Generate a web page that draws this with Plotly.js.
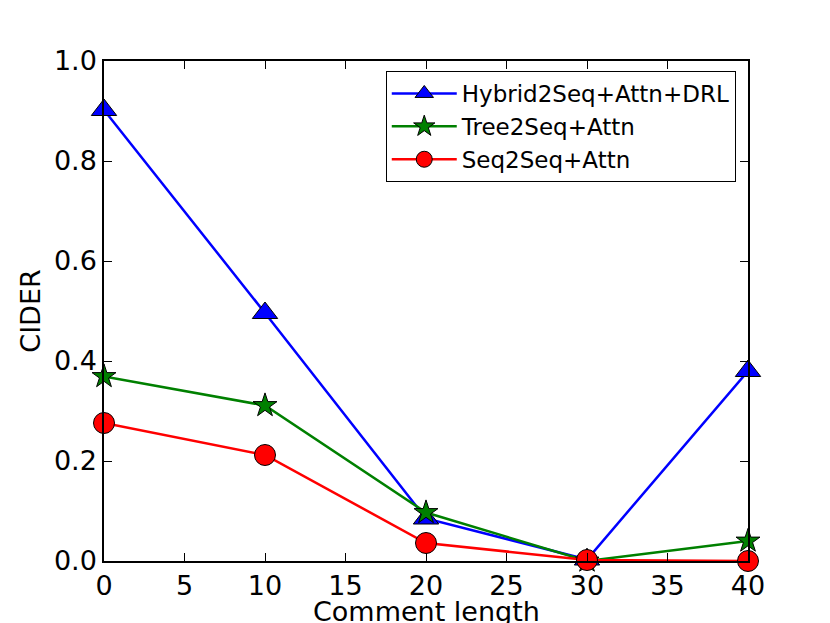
<!DOCTYPE html>
<html>
<head>
<meta charset="utf-8">
<script src="https://cdn.plot.ly/plotly-3.0.1.min.js"></script>
<style>
  body { margin: 0; background: #fff; }
  #chart { width: 830px; height: 623px; }
</style>
</head>
<body>
<div id="chart"></div>
<script>
var lengths = [0, 10, 20, 30, 40];
var hybridCider = [0.902, 0.496, 0.085, 0.003, 0.38];
var treeCider = [0.369, 0.311, 0.097, 0.0, 0.04];
var seqCider = [0.276, 0.212, 0.036, 0.002, 0.0];

var names = ["Hybrid2Seq+Attn+DRL", "Tree2Seq+Attn", "Seq2Seq+Attn"];
var xTitle = "Comment length";
var yTitle = "CIDER";

function series(y, name, color, symbol, size) {
  return {
    x: lengths,
    y: y,
    name: name,
    legendgroup: name,
    type: "scatter",
    mode: "lines+markers",
    cliponaxis: false,
    line: { color: color, width: 2.5 },
    marker: { symbol: symbol, size: size, color: color, line: { color: "black", width: 1 } }
  };
}

var data = [
  series(hybridCider, names[0], "blue", "triangle-up", 22),
  series(treeCider, names[1], "green", "star", 18),
  series(seqCider, names[2], "red", "circle", 21)
];

var axisFont = { family: "DejaVu Sans", size: 27, color: "black" };

var layout = {
  width: 830,
  height: 623,
  margin: { l: 104, r: 82, t: 61, b: 62 },
  paper_bgcolor: "white",
  plot_bgcolor: "white",
  font: { family: "DejaVu Sans", color: "black" },
  showlegend: true,
  legend: {
    x: 0.981, y: 0.98, xanchor: "right", yanchor: "top",
    bgcolor: "white", bordercolor: "black", borderwidth: 1,
    font: { family: "DejaVu Sans", size: 23, color: "black" },
    itemwidth: 65,
    traceorder: "grouped",
    tracegroupgap: 0
  },
  xaxis: {
    range: [0, 40],
    tickvals: [0, 5, 10, 15, 20, 25, 30, 35, 40],
    ticks: "inside", ticklen: 8, tickwidth: 1, tickcolor: "black",
    showline: true, linecolor: "black", linewidth: 1.5, mirror: "ticks",
    showgrid: false, zeroline: false,
    tickfont: axisFont
  },
  yaxis: {
    range: [0, 1.0],
    tickvals: [0, 0.2, 0.4, 0.6, 0.8, 1.0],
    tickformat: ".1f",
    ticks: "inside", ticklen: 8, tickwidth: 1, tickcolor: "black",
    showline: true, linecolor: "black", linewidth: 1.5, mirror: "ticks",
    showgrid: false, zeroline: false,
    tickfont: axisFont,
    title: { text: yTitle, font: { family: "DejaVu Sans", size: 27, color: "black" } }
  },
  annotations: [{
    text: xTitle,
    xref: "paper", yref: "paper",
    x: 0.5, y: 0, xanchor: "center", yanchor: "top",
    yshift: -33,
    showarrow: false,
    font: { family: "DejaVu Sans", size: 27, color: "black" }
  }]
};

Plotly.newPlot("chart", data, layout, { displayModeBar: false });
</script>
</body>
</html>
